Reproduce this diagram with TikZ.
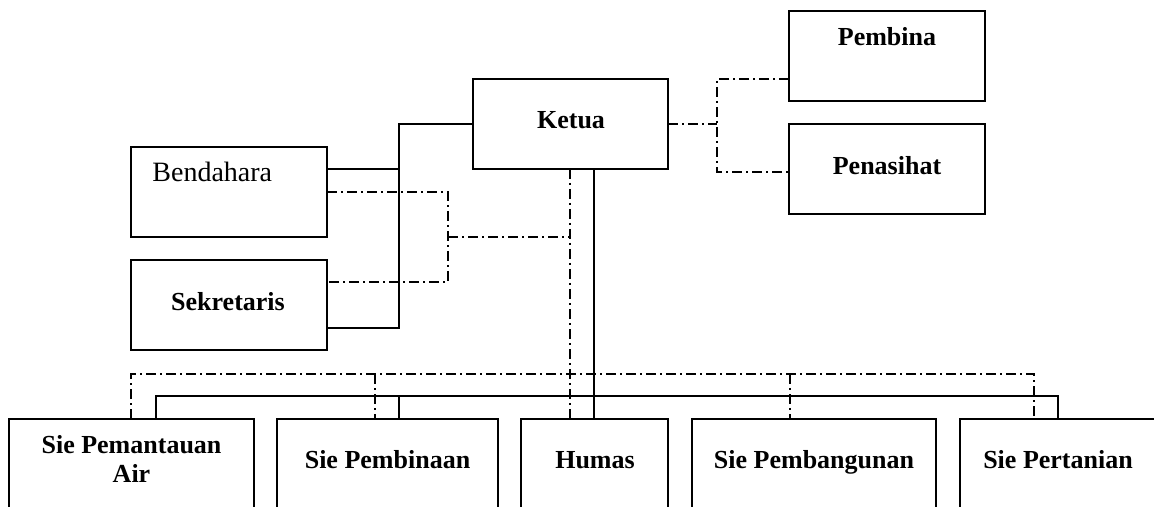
\documentclass[tikz,border=0pt]{standalone}
\usepackage{fontspec}
\setmainfont{Liberation Serif}
\begin{document}
\begin{tikzpicture}[x=0.5pt,y=-0.5pt,
  box/.style={draw, line width=1pt, rectangle, inner sep=0pt, outer sep=0pt},
  lbl/.style={inner sep=0pt, font=\fontsize{13}{14.5}\selectfont\bfseries, anchor=base},
  conn/.style={line width=0.8pt},
  dconn/.style={line width=0.7pt, dash pattern=on 5pt off 2pt on 1pt off 2pt}]
\useasboundingbox (0,0) rectangle (1154,507);
\clip (0,0) rectangle (1154,507);
% boxes
\node[box, minimum width=97.5pt, minimum height=45pt] (ketua) at (570.5,124) {};
\node[box, minimum width=98pt, minimum height=45pt] (pembina) at (887,56) {};
\node[box, minimum width=98pt, minimum height=45pt] (penasihat) at (887,169) {};
\node[box, minimum width=98pt, minimum height=45pt] (bendahara) at (229,192) {};
\node[box, minimum width=98pt, minimum height=45pt] (sekretaris) at (229,305) {};
\node[box, minimum width=122.5pt, minimum height=55.5pt] (b1) at (131.5,474.5) {};
\node[box, minimum width=110.5pt, minimum height=55.5pt] (b2) at (387.5,474.5) {};
\node[box, minimum width=73.5pt, minimum height=55.5pt] (humas) at (594.5,474.5) {};
\node[box, minimum width=122pt, minimum height=55.5pt] (b4) at (814,474.5) {};
\node[box, minimum width=100pt, minimum height=55.5pt] (b5) at (1060,474.5) {};
% labels
\node[lbl] (tketua) at (571,129) {Ketua};
\node[lbl] (tpembina) at (887,46) {Pembina};
\node[lbl] (tpenasihat) at (887,175) {Penasihat};
\node[inner sep=0pt, anchor=base west, font=\fontsize{14}{16}\selectfont] (tbendahara) at (152,182) {Bendahara};
\node[lbl] (tsekretaris) at (228,310) {Sekretaris};
\node[lbl, align=center] (tb1) at (131.5,482) {Sie Pemantauan\\Air};
\node[lbl] (tb2) at (387.5,468) {Sie Pembinaan};
\node[lbl] (thumas) at (595,468) {Humas};
\node[lbl] (tb4) at (814,468) {Sie Pembangunan};
\node[lbl] (tb5) at (1058,468) {Sie Pertanian};
% junction coordinates
\coordinate (jL) at (399,328);
\coordinate (jB) at (399,169);
\coordinate (sK) at (594,396);
\coordinate (sL) at (156,396);
\coordinate (sR) at (1058,396);
\coordinate (s2) at (399,396);
\coordinate (dK) at (717,124);
\coordinate (dP) at (717,79);
\coordinate (dQ) at (717,172);
\coordinate (dB2) at (448,282);
\coordinate (dM) at (448,237);
\coordinate (dM2) at (570,237);
\coordinate (dL) at (131,374);
\coordinate (dR) at (1034,374);
\coordinate (d2) at (375,374);
\coordinate (d4) at (790,374);
% solid connectors
\draw[conn] (ketua.west) -| (jL) -- (sekretaris.east |- jL);
\draw[conn] (jB) -- (bendahara.east |- jB);
\draw[conn] (ketua.south -| sK) -- (humas.north -| sK);
\draw[conn] (b1.north -| sL) |- (sR) -- (b5.north -| sR);
\draw[conn] (s2) -- (b2.north -| s2);
% dash-dot connectors
\draw[dconn] (ketua.east) -- (dK);
\draw[dconn] (pembina.west |- dP) -| (dQ) -- (penasihat.west |- dQ);
\draw[dconn] (bendahara.east) -| (dB2) -- (sekretaris.east |- dB2);
\draw[dconn] (dM) -- (dM2);
\draw[dconn] (ketua.south -| dM2) -- (humas.north -| dM2);
\draw[dconn] (b1.north -| dL) |- (dR) -- (b5.north -| dR);
\draw[dconn] (d2) -- (b2.north -| d2);
\draw[dconn] (d4) -- (b4.north -| d4);
\end{tikzpicture}
\end{document}
